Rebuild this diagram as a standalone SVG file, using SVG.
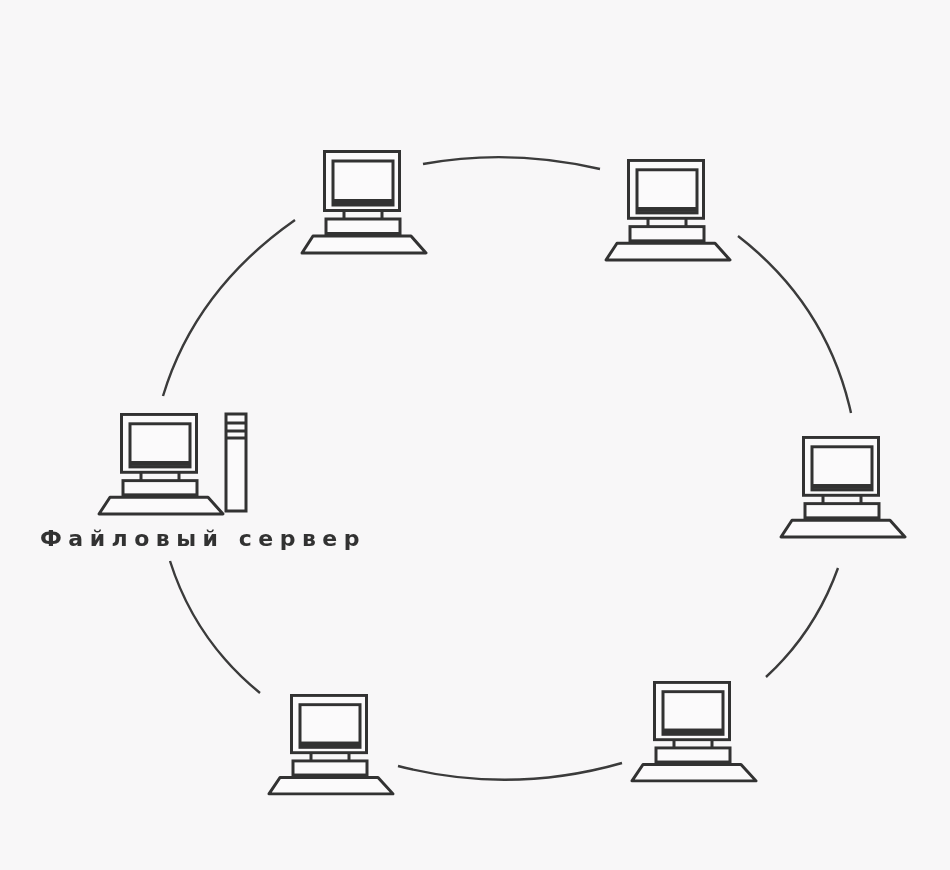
<svg xmlns="http://www.w3.org/2000/svg" width="950" height="870" viewBox="0 0 950 870">
<style>
.s{fill:none;stroke:#333;stroke-width:3}
.w{fill:#fbfafb;stroke:#333;stroke-width:3}
.k{fill:#fbfafb;stroke:#333;stroke-width:3;stroke-linejoin:round}
.d{fill:#333}
.c{fill:none;stroke:#3a3a3a;stroke-width:2.4}
text{font-family:"DejaVu Sans","Liberation Sans",sans-serif;font-size:22px;letter-spacing:6.5px;fill:#333;font-weight:bold}
</style>
<defs>
<filter id="b" x="-5%" y="-5%" width="110%" height="110%"><feGaussianBlur stdDeviation="0.6"/></filter>
<g id="pc">
<path class="s" d="M21 61V70H9M59 61V70H68"/>
<rect class="w" x="1.5" y="1.5" width="75" height="59"/>
<rect class="w" x="10" y="11" width="60" height="44"/>
<rect class="d" x="10" y="49" width="60" height="5"/>
<rect class="w" x="3" y="69" width="74" height="17"/>
<path class="k" d="M-10 86H88L103 103H-21Z"/>
<rect class="d" x="3" y="82" width="74" height="4"/>
</g>
</defs>
<rect width="950" height="870" fill="#f8f7f8"/>
<g filter="url(#b)">
<g id="connectors">
<path class="c" d="M423 164Q510 148 600 169"/>
<path class="c" d="M738 236Q827 305 851 413"/>
<path class="c" d="M838 568Q815 632 766 677"/>
<path class="c" d="M622 763Q510 795 398 766"/>
<path class="c" d="M260 693Q195 640 170 561"/>
<path class="c" d="M163 396Q195 290 295 220"/>
</g>
<g id="n1"><use href="#pc" x="323" y="150"/></g>
<g id="n2"><use href="#pc" transform="translate(627 159) scale(1 .98)"/></g>
<g id="n3"><use href="#pc" transform="translate(802 436) scale(1 .98)"/></g>
<g id="n4"><use href="#pc" transform="translate(653 681) scale(1 .97)"/></g>
<g id="n5"><use href="#pc" transform="translate(290 694) scale(1 .97)"/></g>
<g id="server"><use href="#pc" transform="translate(120 413) scale(1 .98)"/>
<rect class="w" x="226" y="414" width="20" height="97"/>
<path class="s" d="M226 423H246M226 431H246M226 438H246"/>
<text x="40" y="546">Файловый сервер</text></g>
</g>
</svg>
